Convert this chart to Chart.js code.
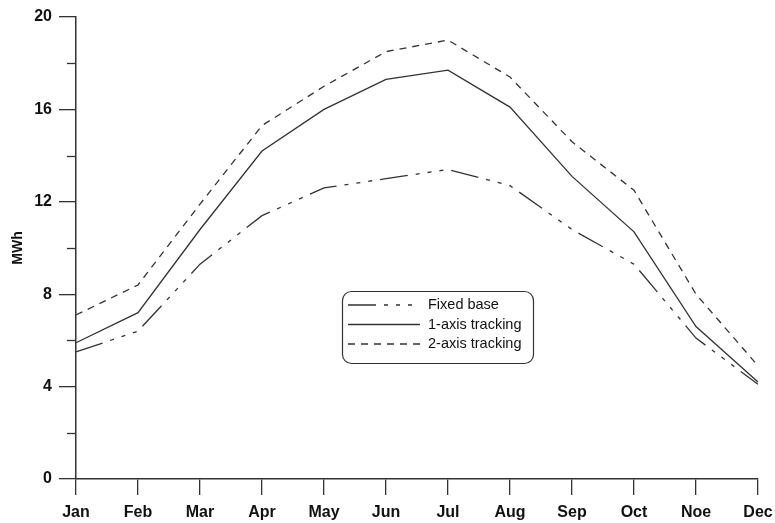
<!DOCTYPE html>
<html>
<head>
<meta charset="utf-8">
<title>Monthly energy output</title>
<script src="https://cdn.jsdelivr.net/npm/chart.js@4.4.1/dist/chart.umd.min.js"></script>
<style>
    html, body { margin: 0; padding: 0; background: #fff; }
    canvas { display: block; }
</style>
</head>
<body>
<canvas id="energyChart" width="775" height="523"></canvas>
<script>
// Chart data
const months = ['Jan', 'Feb', 'Mar', 'Apr', 'May', 'Jun', 'Jul', 'Aug', 'Sep', 'Oct', 'Noe', 'Dec'];
const fixedBase = [5.5, 6.4, 9.3, 11.4, 12.6, 13.0, 13.4, 12.7, 10.8, 9.3, 6.1, 4.1];
const oneAxis = [5.9, 7.2, 10.8, 14.2, 16.0, 17.3, 17.7, 16.1, 13.1, 10.7, 6.6, 4.2];
const twoAxis = [7.1, 8.4, 11.9, 15.3, 17.0, 18.5, 19.0, 17.4, 14.6, 12.5, 8.0, 4.9];
const yTicks = [0, 4, 8, 12, 16, 20];
const minorTicks = [2, 6, 10, 14, 18];

const ink = '#333';
const font = "'Liberation Sans', Arial, Helvetica, sans-serif";

// Line styles for each series
const dashFixed = [28, 8, 4, 8, 4, 8, 4, 8];
const dashTwo = [7, 6];

// Short minor ticks on the y axis (major ones come from the grid)
const minorTickPlugin = {
    id: 'minorTicks',
    afterDraw(chart) {
        const ctx = chart.ctx;
        const y = chart.scales.y;
        ctx.save();
        ctx.strokeStyle = ink;
        ctx.lineWidth = 1.3;
        minorTicks.forEach(v => {
            const py = Math.round(y.getPixelForValue(v)) + 0.5;
            ctx.beginPath();
            ctx.moveTo(chart.chartArea.left - 9, py);
            ctx.lineTo(chart.chartArea.left, py);
            ctx.stroke();
        });
        ctx.restore();
    }
};

// Legend in a rounded box inside the plot
const boxLegendPlugin = {
    id: 'boxLegend',
    afterDraw(chart) {
        const ctx = chart.ctx;
        const area = chart.chartArea;
        const left = area.left + 266;
        const top = area.top + 274;
        const w = 191, h = 72;

        ctx.save();
        ctx.strokeStyle = ink;
        ctx.lineWidth = 1.2;
        ctx.fillStyle = '#fff';
        ctx.beginPath();
        ctx.roundRect(left + 0.5, top + 0.5, w, h, 9);
        ctx.fill();
        ctx.stroke();

        ctx.font = '14.5px ' + font;
        ctx.textBaseline = 'middle';
        chart.data.datasets.forEach((ds, i) => {
            const ry = top + 14 + i * 19.5;
            ctx.setLineDash(ds.borderDash || []);
            ctx.lineWidth = ds.borderWidth;
            ctx.beginPath();
            ctx.moveTo(left + 6, ry);
            ctx.lineTo(left + 78, ry);
            ctx.stroke();
            ctx.setLineDash([]);
            ctx.fillStyle = '#111';
            ctx.fillText(ds.label, left + 86, ry);
        });
        ctx.restore();
    }
};

const ctx = document.getElementById('energyChart').getContext('2d');
new Chart(ctx, {
    type: 'line',
    data: {
        labels: months,
        datasets: [
            {
                label: 'Fixed base',
                data: fixedBase,
                borderColor: ink,
                borderWidth: 1.3,
                borderDash: dashFixed,
                pointRadius: 0,
                tension: 0
            },
            {
                label: '1-axis tracking',
                data: oneAxis,
                borderColor: ink,
                borderWidth: 1.3,
                pointRadius: 0,
                tension: 0
            },
            {
                label: '2-axis tracking',
                data: twoAxis,
                borderColor: ink,
                borderWidth: 1.3,
                borderDash: dashTwo,
                pointRadius: 0,
                tension: 0
            }
        ]
    },
    options: {
        responsive: false,
        animation: false,
        devicePixelRatio: 1,
        layout: { padding: { top: 17, right: 17, left: 0, bottom: 0 } },
        plugins: {
            legend: { display: false },
            tooltip: { enabled: false }
        },
        scales: {
            x: {
                type: 'category',
                offset: false,
                grid: { drawOnChartArea: false, tickLength: 16, color: ink, lineWidth: 1.3 },
                border: { color: ink, width: 1.5 },
                ticks: { color: '#111', padding: 8, maxRotation: 0, font: { family: font, size: 16, weight: 'bold' } },
                afterFit(scale) {
                    scale.height = 44;
                    // let "Dec" hang into the right margin like the original
                    scale.paddingLeft = 0;
                    scale.paddingRight = 0;
                }
            },
            y: {
                min: 0,
                max: 20,
                afterBuildTicks(scale) { scale.ticks = yTicks.map(v => ({ value: v })); },
                grid: { drawOnChartArea: false, tickLength: 17, color: ink, lineWidth: 1.3 },
                border: { color: ink, width: 1.5 },
                ticks: { color: '#111', padding: 7, font: { family: font, size: 16, weight: 'bold' } },
                title: {
                    display: true,
                    text: 'MWh',
                    color: '#111',
                    padding: { top: 10, bottom: 0 },
                    font: { family: font, size: 14, weight: 'bold' }
                },
                afterFit(scale) { scale.width = 76; }
            }
        }
    },
    plugins: [minorTickPlugin, boxLegendPlugin]
});
</script>
</body>
</html>
